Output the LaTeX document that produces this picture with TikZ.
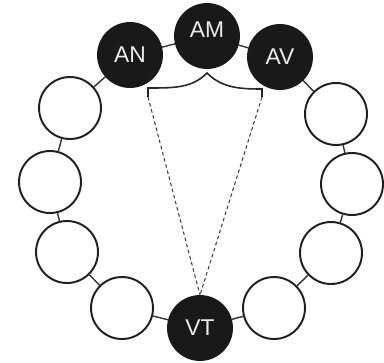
\documentclass[tikz,border=0pt]{standalone}
\usepackage{fontspec}
\setmainfont{Liberation Sans}
\begin{document}
\begin{tikzpicture}[x=0.02cm,y=-0.02cm,
  ring/.style={circle,draw=black!88,line width=1.1pt,fill=white,minimum size=1.24cm,inner sep=0pt},
  dark/.style={circle,draw=black!90,line width=1.1pt,fill=black!90,minimum size=1.28cm,inner sep=0pt,text=white!92!black,font=\fontsize{13}{13}\selectfont},
  link/.style={draw=black!80,line width=0.8pt},
  guide/.style={draw=black!75,line width=0.6pt,dash pattern=on 2pt off 1.6pt},
  bracket/.style={draw=black!85,line width=0.9pt}]
\useasboundingbox (0,0) rectangle (384,362);
% dark nodes
\node[dark] (AN) at (130,55) {AN};
\node[dark] (AM) at (207,36) {};
\node[font=\fontsize{13}{13}\selectfont,text=white!92!black] (AMt) at (207,30) {AM};
\node[dark] (AV) at (280,57) {AV};
\node[dark] (VT) at (200,328) {VT};
% left ring
\node[ring] (L1) at (70,108) {};
\node[ring] (L2) at (50,182) {};
\node[ring] (L3) at (67,252) {};
\node[ring] (L4) at (122,308) {};
% right ring
\node[ring] (R1) at (336,114) {};
\node[ring] (R2) at (352,184) {};
\node[ring] (R3) at (331,253) {};
\node[ring] (R4) at (274,308) {};
% chain links
\draw[link] (AN) -- (AM);
\draw[link] (AM) -- (AV);
\draw[link] (AN) -- (L1);
\draw[link] (L1) -- (L2);
\draw[link] (L2) -- (L3);
\draw[link] (L3) -- (L4);
\draw[link] (L4) -- (VT);
\draw[link] (AV) -- (R1);
\draw[link] (R1) -- (R2);
\draw[link] (R2) -- (R3);
\draw[link] (R3) -- (R4);
\draw[link] (R4) -- (VT);
% bracket under AM
\coordinate (bl) at (148,97);
\coordinate (br) at (262,97);
\coordinate (bt) at (207,73);
\draw[bracket] (bl) -- (148,88) .. controls (175,88) and (192,88) .. (bt)
  .. controls (222,88) and (240,89) .. (262,89) -- (br);
% dashed guides
\draw[guide] (bl) -- (VT.north);
\draw[guide] (br) -- (VT.north);
\end{tikzpicture}
\end{document}
